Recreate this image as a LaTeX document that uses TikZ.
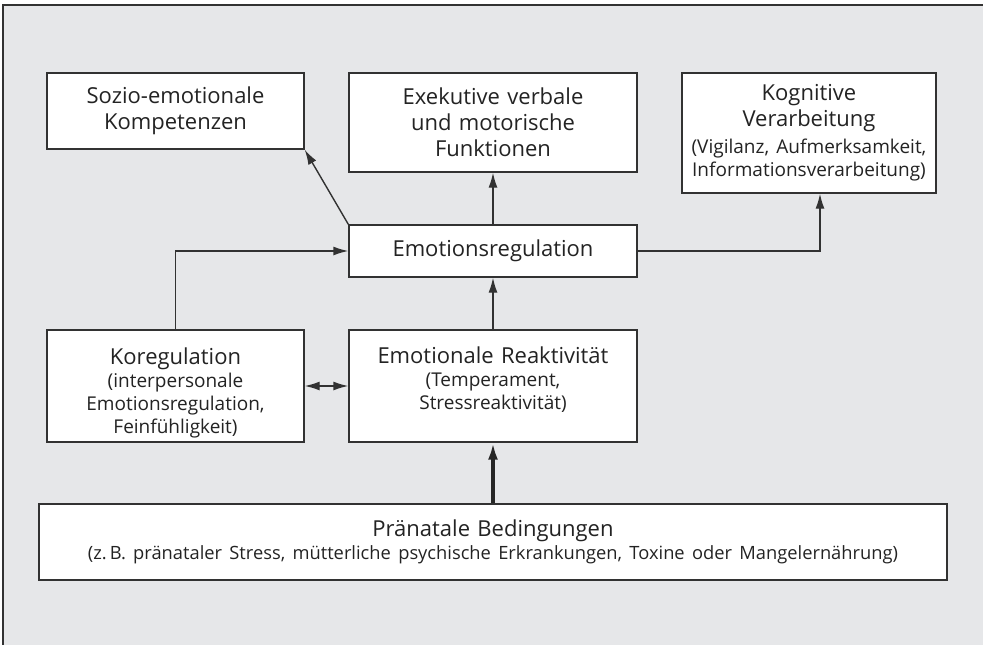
\documentclass[tikz,border=0pt]{standalone}
\usepackage{fontspec}
\setmainfont{Open Sans}
\usetikzlibrary{arrows.meta}
\definecolor{panelgray}{RGB}{230, 231, 233}
\definecolor{linegray}{RGB}{50, 50, 50}
\definecolor{textgray}{RGB}{35, 35, 35}
\newcommand{\mainsize}{\fontsize{22}{26}\selectfont}
\newcommand{\subsize}{\fontsize{19}{23}\selectfont}
\newcommand{\subline}[1]{\par{\subsize #1\par}}
\tikzset{
  box/.style={rectangle, draw=linegray, fill=white, line width=1.4pt, inner sep=0pt,
              text width=#1, minimum width=#1, align=center, font=\mainsize, text=textgray},
  box/.default=257pt,
  arrow/.style={-{Latex[length=15pt, width=9pt]}, line width=1.4pt, draw=linegray},
  darrow/.style={{Latex[length=15pt, width=9pt]}-{Latex[length=15pt, width=9pt]}, line width=1.4pt, draw=linegray},
  thickarrow/.style={-{Latex[length=17pt, width=10pt]}, line width=4pt, draw=black!85},
}

\begin{document}
\begin{tikzpicture}[x=1pt, y=-1pt]
        \useasboundingbox (0,0) rectangle (983,645);
        % panel
        \fill[panelgray] (3,5) rectangle (983,645);
        \draw[linegray, line width=1.4pt] (3,645) -- (3,5) -- (983,5);

        % top row
        \node[box=257pt, minimum height=76pt] (sozio) at (175.5,111)
             {Sozio-emotionale\\Kompetenzen};
        \node[box=288pt, minimum height=99pt] (exek) at (493,122.5)
             {Exekutive verbale\\und motorische\\Funktionen};
        \node[box=254pt, minimum height=120pt] (kogn) at (809,133)
             {Kognitive\\Verarbeitung\subline{\vspace{4pt}(Vigilanz, Aufmerksamkeit,\\Informationsverarbeitung)}};

        % middle
        \node[box=288pt, minimum height=52pt] (emoreg) at (493,251) {Emotionsregulation};
        \node[box=257pt, minimum height=112pt] (koreg) at (175.5,386)
             {\rule{0pt}{30pt}Koregulation\subline{(interpersonale\\Emotionsregulation,\\Feinfühligkeit)}};
        \node[box=288pt, minimum height=112pt] (reakt) at (493,386)
             {Emotionale Reaktivität\subline{(Temperament,\\Stressreaktivität)}\vspace{12pt}};

        % bottom
        \node[box=908pt, minimum height=76pt] (praen) at (493,542)
             {Pränatale Bedingungen\par{\fontsize{18.3}{23}\selectfont (z.\,B. pränataler Stress, mütterliche psychische Erkrankungen, Toxine oder Mangelernährung)\par}};

        % connectors
        \draw[arrow] (emoreg.north west) -- (sozio.south east);
        \draw[arrow] (emoreg.north) -- (exek.south);
        \draw[arrow] (emoreg.east) -| ([xshift=11pt]kogn.south);
        \draw[arrow] (koreg.north) |- (emoreg.west);
        \draw[arrow] (reakt.north) -- (emoreg.south);
        \draw[darrow] (koreg.east) -- (reakt.west);
        \draw[thickarrow] (praen.north) -- (reakt.south);
      \end{tikzpicture}
\end{document}
